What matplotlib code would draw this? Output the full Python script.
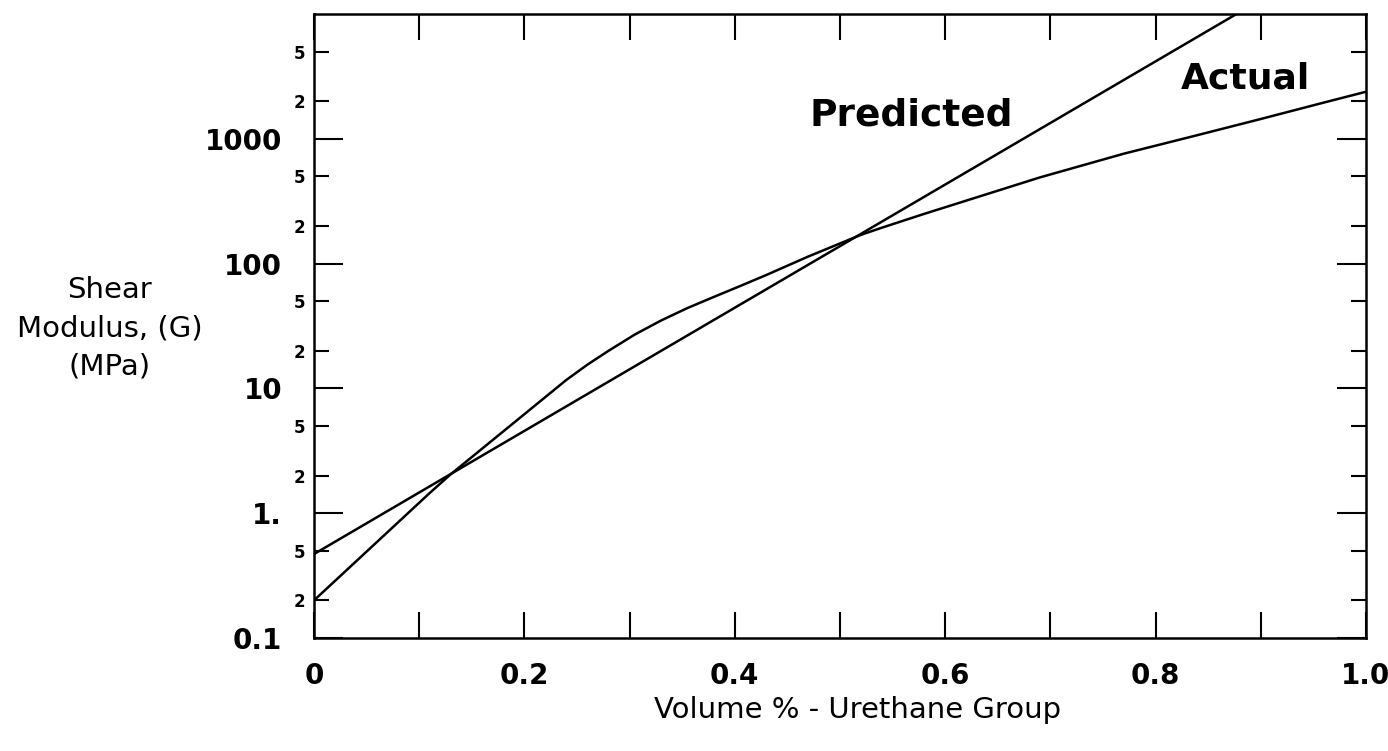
import matplotlib
matplotlib.use('Agg')
import matplotlib.pyplot as plt

plt.rcParams['font.family'] = ['DejaVu Sans']

# shear modulus (MPa) vs volume fraction of urethane group
vol_actual = [0.0, 0.11, 0.13, 0.19, 0.24, 0.26, 0.28, 0.305, 0.33, 0.355,
              0.38, 0.405, 0.43, 0.47, 0.52, 0.54, 0.58, 0.69, 0.77, 0.84,
              0.90, 0.96, 1.0]
g_actual = [0.2, 1.45, 2.05, 5.3, 11.7, 15.5, 20, 27, 35, 44,
            54, 66, 81, 114, 170, 194, 250, 490, 760, 1070,
            1440, 1950, 2380]

vol_pred = [0.0, 0.877]
g_pred = [0.47, 10000]

y_major = [0.1, 1, 10, 100, 1000]
y_major_labels = ['0.1', '1.', '10', '100', '1000']
y_minor = [0.2, 0.5, 2, 5, 20, 50, 200, 500, 2000, 5000]
y_minor_labels = ['2', '5'] * 5

x_major = [0, 0.2, 0.4, 0.6, 0.8, 1.0]
x_major_labels = ['0', '0.2', '0.4', '0.6', '0.8', '1.0']
x_minor = [0.1, 0.3, 0.5, 0.7, 0.9]

fig = plt.figure(figsize=(13.88, 7.51), dpi=100)
ax = fig.add_axes([0.2262, 0.1505, 0.7579, 0.8309])

ax.plot(vol_actual, g_actual, 'k-', lw=1.8)
ax.plot(vol_pred, g_pred, 'k-', lw=1.8)

ax.set_yscale('log')
ax.set_xlim(0, 1)
ax.set_ylim(0.1, 10000)

ax.set_yticks(y_major, labels=y_major_labels, fontsize=20, fontweight='bold')
ax.set_yticks(y_minor, labels=y_minor_labels, minor=True, fontsize=12,
              fontweight='bold')
ax.set_xticks(x_major, labels=x_major_labels, fontsize=20, fontweight='bold')
ax.set_xticks(x_minor, minor=True)

ax.tick_params(axis='y', which='major', direction='in', length=21, width=1.5,
               right=True, pad=23)
ax.tick_params(axis='y', which='minor', direction='in', length=11, width=1.5,
               right=True, pad=6)
ax.tick_params(axis='x', which='both', direction='in', length=19, width=1.5,
               top=True, pad=17)

for sp in ax.spines.values():
    sp.set_linewidth(1.8)

ax.text(0.568, 0.822, 'Predicted', transform=ax.transAxes, ha='center',
        va='baseline', fontsize=27, fontweight='bold')
ax.text(0.885, 0.881, 'Actual', transform=ax.transAxes, ha='center',
        va='baseline', fontsize=26, fontweight='bold')

fig.text(0.079, 0.563, 'Shear\nModulus, (G)\n(MPa)', ha='center', va='center',
         fontsize=21, linespacing=1.45)
fig.text(0.618, 0.044, 'Volume % - Urethane Group', ha='center',
         va='baseline', fontsize=21)

fig.savefig('out.png', dpi=100)
